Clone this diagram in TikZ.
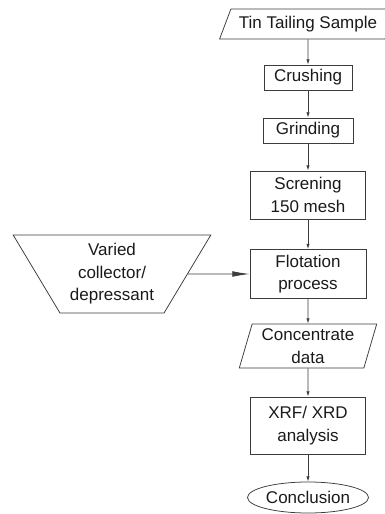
\documentclass[tikz,border=0pt]{standalone}
\usepackage{fontspec}
\setmainfont{Liberation Sans}
\usetikzlibrary{arrows.meta,shapes.geometric}
\definecolor{flow-ink}{HTML}{1A1A1A}
\definecolor{flow-line}{HTML}{3C3C3C}

\begin{document}
\begin{tikzpicture}[
    font=\fontsize{14.5pt}{19.2pt}\selectfont,
    every node/.style={text=flow-ink},
    stepbox/.style={draw=flow-line, line width=0.65pt, align=center, inner sep=0pt},
    databox/.style={trapezium, draw=flow-line, line width=0.65pt, align=center, inner sep=1pt, trapezium stretches=true},
    inputbox/.style={trapezium, draw=flow-line, line width=0.65pt, align=center, inner sep=1pt, trapezium stretches=true, trapezium left angle=121.6, trapezium right angle=121.6},
    endbox/.style={ellipse, draw=flow-line, line width=0.65pt, inner sep=0pt},
    flow/.style={-{Latex[length=1.6mm, width=1.0mm]}, draw=flow-line, line width=0.65pt},
    feed/.style={-{Latex[length=5.2mm, width=1.7mm]}, draw=flow-line, line width=0.65pt}
]
\useasboundingbox (0,0) rectangle (11.52,15.42);

\node[databox, trapezium left angle=60.4, trapezium right angle=119.6, minimum width=5.31cm, minimum height=0.9cm] (sample) at (9.24,14.70) {Tin Tailing Sample};
\node[stepbox, minimum width=2.64cm, minimum height=0.75cm] (crushing) at (9.24,13.095) {Crushing};
\node[stepbox, minimum width=2.70cm, minimum height=0.75cm] (grinding) at (9.24,11.505) {Grinding};
\node[stepbox, minimum width=3.45cm, minimum height=1.44cm] (screening) at (9.24,9.57) {Screning\\150 mesh};
\node[stepbox, minimum width=3.48cm, minimum height=1.47cm] (flotation) at (9.24,7.20) {Flotation\\process};
\node[databox, trapezium left angle=73.5, trapezium right angle=106.5, minimum width=4.14cm, minimum height=1.32cm] (concentrate) at (9.24,5.04) {Concentrate\\data};
\node[stepbox, minimum width=3.45cm, minimum height=1.71cm] (analysis) at (9.24,2.655) {XRF/ XRD\\analysis};
\node[endbox, minimum width=3.63cm, minimum height=0.93cm] (conclusion) at (9.24,0.495) {Conclusion};

\node[inputbox, minimum width=5.94cm, minimum height=2.34cm] (reagent) at (3.36,7.20) {Varied\\collector/\\depressant};

\draw[flow] (sample) -- (crushing);
\draw[flow] (crushing) -- (grinding);
\draw[flow] (grinding) -- (screening);
\draw[flow] (screening) -- (flotation);
\draw[flow] (flotation) -- (concentrate);
\draw[flow] (concentrate) -- (analysis);
\draw[flow] (analysis) -- (conclusion);
\draw[feed] (reagent.east) -- (flotation.west);
\end{tikzpicture}
\end{document}
